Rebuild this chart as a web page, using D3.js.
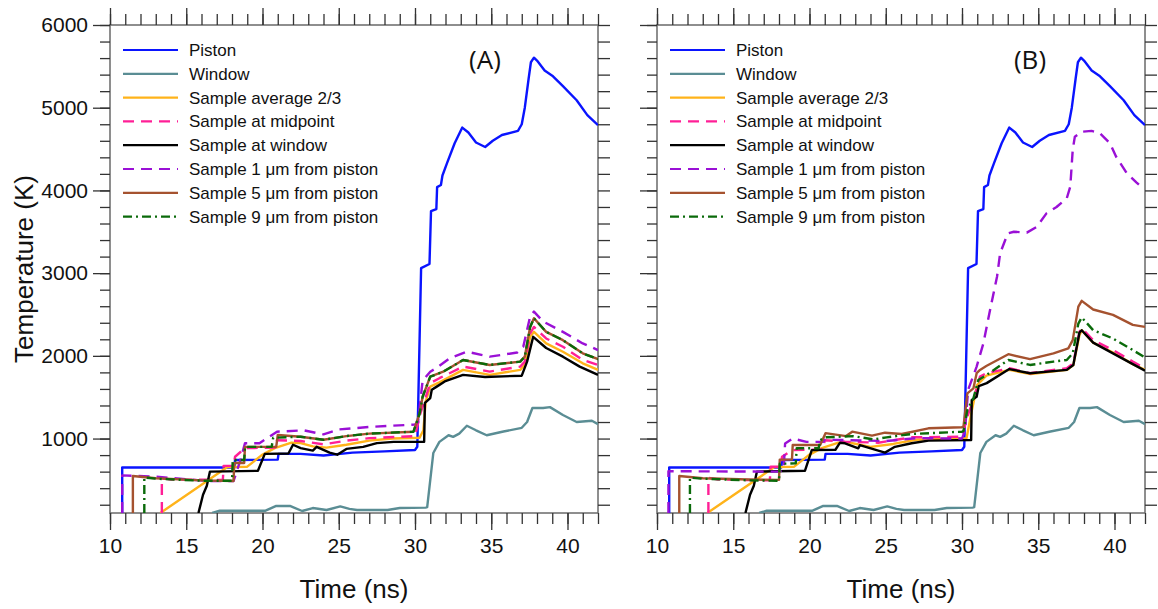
<!DOCTYPE html>
<html>
<head>
<meta charset="utf-8">
<script src="https://cdn.jsdelivr.net/npm/d3@7"></script>
<style>
html,body{margin:0;padding:0;background:#fff;}
svg{display:block;font-family:"Liberation Sans",Arial,Helvetica,sans-serif;}
</style>
</head>
<body>
<svg id="chart" width="1158" height="609"></svg>
<script>
// ---------- data (time in ns, temperature in K) ----------
const xTickValues = [10, 15, 20, 25, 30, 35, 40];
const yTickValues = [1000, 2000, 3000, 4000, 5000, 6000];
const seriesNames = ["Piston", "Window", "Sample average 2/3", "Sample at midpoint", "Sample at window",
  "Sample 1 \u03bcm from piston", "Sample 5 \u03bcm from piston", "Sample 9 \u03bcm from piston"];
const panelLabels = ["(A)", "(B)"];

const piston = [[10.8,100],[10.8,650],[18.15,650],[18.2,740],[21.0,745],[21.05,815],[22.5,815],[24,795],[25.9,830],[28,845],[30.0,862],[30.15,900],[30.4,3060],[30.95,3110],[31.05,3750],[31.4,3775],[31.45,4040],[31.7,4065],[31.8,4180],[32.1,4330],[32.6,4570],[33.1,4760],[33.5,4700],[34.0,4580],[34.6,4525],[35.1,4600],[35.7,4670],[36.75,4720],[37.0,4800],[37.2,5000],[37.45,5350],[37.6,5550],[37.8,5605],[38.0,5570],[38.5,5450],[39.05,5380],[39.7,5260],[40.6,5090],[41.3,4910],[42,4790]];
const windowT = [[16.7,100],[17.2,128],[20.2,128],[20.9,185],[21.8,185],[22.6,124],[23.3,160],[24.2,136],[25.1,180],[25.7,150],[26.2,136],[28.2,136],[29.0,160],[30.7,165],[30.8,170],[31.2,825],[31.6,960],[32.2,1040],[32.5,1020],[32.9,1060],[33.4,1155],[34.0,1100],[34.7,1040],[35.8,1085],[37.0,1130],[37.35,1200],[37.7,1370],[38.4,1370],[38.85,1380],[39.7,1285],[40.6,1200],[41.6,1215],[42,1175]];

const averageA = [[13.3,100],[17.7,655],[19.0,660],[19.95,800],[20.8,885],[21.9,950],[22.5,945],[23.3,905],[24.2,890],[25.5,925],[27,975],[28.5,1000],[30.3,1010],[30.55,1100],[30.7,1450],[31.0,1627],[31.6,1680],[33.15,1830],[34.9,1770],[36.9,1830],[37.2,1890],[37.55,2230],[37.8,2290],[38.6,2150],[39.7,2050],[41,1910],[42,1830]];
const midpointA = [[13.4,100],[13.4,520],[14,505],[17.4,500],[17.45,670],[18.1,670],[18.2,780],[18.85,885],[20.9,890],[20.95,980],[22.5,970],[24,930],[25.5,975],[27,1005],[30.0,1030],[30.35,1300],[31.0,1670],[31.6,1730],[33.15,1870],[34.9,1810],[36.9,1870],[37.2,1930],[37.55,2270],[37.8,2350],[38.6,2210],[39.7,2110],[41,1950],[42,1890]];
const atWindowA = [[15.8,100],[16.1,320],[16.35,430],[16.55,600],[19.7,610],[20.15,815],[21.7,820],[22.0,925],[22.5,885],[23.3,855],[23.55,900],[24.4,830],[24.9,805],[25.5,875],[26.6,900],[27.5,945],[28.6,960],[30.6,962],[30.65,1430],[31.0,1490],[31.1,1590],[31.4,1625],[31.95,1690],[33.15,1770],[34.6,1745],[37.0,1760],[37.35,1930],[37.75,2230],[38.6,2095],[39.7,1990],[40.8,1870],[42,1770]];
const oneMicronA = [[10.8,100],[10.8,555],[13,540],[16.5,485],[18.1,485],[18.5,708],[18.85,943],[19.8,943],[20.95,1083],[22.7,1100],[24,1050],[25,1110],[27,1140],[30,1170],[30.2,1200],[30.5,1700],[31,1808],[31.4,1853],[32.3,1974],[33.4,2050],[34.9,1990],[36.7,2040],[37.1,2110],[37.55,2475],[37.8,2535],[38.4,2415],[39.7,2290],[41,2150],[42,2070]];
const fiveMicronA = [[11.5,100],[11.5,547],[13,520],[16,495],[18.1,487],[18.15,705],[18.8,705],[18.85,900],[20.9,900],[21.0,1043],[22.5,1022],[24,985],[25.5,1030],[27,1060],[29.9,1083],[30.3,1300],[30.5,1506],[31.0,1748],[31.85,1808],[33.15,1950],[34.9,1890],[36.9,1930],[37.2,1990],[37.55,2350],[37.8,2455],[38.6,2290],[39.7,2190],[41,2030],[42,1960]];
const nineMicronA = [[12.25,100],[12.25,530],[13,515],[16,490],[18.0,490],[18.05,740],[18.8,740],[18.85,900],[20.6,900],[20.7,1010],[22.5,1022],[24,985],[25.5,1030],[27,1060],[29.9,1083],[30.3,1300],[30.5,1506],[31.0,1748],[31.85,1808],[33.15,1950],[34.9,1890],[36.9,1930],[37.2,1990],[37.55,2350],[37.8,2455],[38.6,2290],[39.7,2190],[41,2030],[42,1960]];

const averageB = [[13.3,100],[17.7,655],[19.0,660],[19.95,800],[20.8,885],[21.9,950],[22.5,955],[24,900],[25.5,935],[27,985],[30.3,1005],[30.6,1300],[31.0,1650],[31.6,1760],[33.1,1830],[34.5,1780],[36.9,1830],[37.3,1890],[37.7,2250],[37.85,2310],[38.6,2160],[39.9,2040],[41.2,1900],[42,1830]];
const midpointB = [[13.37,100],[13.37,527],[14,505],[17.4,495],[17.45,660],[18.1,660],[18.2,780],[18.85,860],[20.9,870],[21.0,980],[22.33,962],[24.5,950],[26.7,1015],[30.0,1022],[30.35,1265],[30.75,1466],[31.18,1750],[31.62,1790],[33.1,1850],[34.46,1790],[36.87,1850],[37.3,1910],[37.7,2290],[37.85,2335],[38.6,2190],[39.9,2070],[41.2,1930],[42,1850]];
const atWindowB = [[15.8,100],[16.1,320],[16.35,430],[16.55,600],[19.7,610],[20.15,860],[21.7,865],[22.0,950],[22.33,943],[23.2,882],[23.3,920],[24.95,830],[25.6,900],[26.7,943],[27.8,975],[30.6,982],[30.64,1466],[30.96,1506],[31.1,1635],[31.62,1670],[33.1,1840],[34.46,1790],[36.87,1830],[37.3,1890],[37.7,2280],[37.85,2310],[38.6,2160],[39.9,2030],[41.2,1900],[42,1820]];
const oneMicronB = [[10.75,100],[10.75,605],[18.0,600],[18.3,620],[18.4,940],[18.9,1000],[19.8,960],[20.9,960],[21.0,985],[22.33,982],[25.0,970],[27.05,1005],[30.0,1000],[30.2,1100],[30.4,1587],[30.96,1870],[31.4,2150],[31.84,2555],[32.3,2960],[32.5,3240],[33.0,3480],[33.4,3500],[34.25,3490],[34.9,3560],[35.55,3725],[36.2,3800],[36.87,3905],[37.1,4045],[37.26,4490],[37.4,4650],[37.85,4710],[38.5,4720],[39.05,4690],[39.7,4570],[40.1,4410],[40.8,4210],[41.45,4095],[41.6,4070]];
const fiveMicronB = [[11.46,100],[11.46,547],[13,520],[16,505],[18.0,500],[18.05,745],[18.85,745],[18.9,922],[20.7,922],[21.05,1065],[22.4,1030],[22.8,1083],[24.1,1035],[24.95,1071],[26.05,1055],[27.8,1124],[30.0,1136],[30.1,1150],[30.35,1547],[30.75,1607],[30.96,1790],[31.18,1830],[31.62,1880],[33.04,2020],[34.46,1960],[36.0,2030],[36.97,2090],[37.26,2190],[37.63,2595],[37.85,2665],[38.6,2560],[39.9,2495],[41.2,2375],[42,2350]];
const nineMicronB = [[12.16,100],[12.16,527],[13,515],[16,495],[18.0,490],[18.05,695],[19.1,700],[19.16,882],[20.6,882],[20.7,982],[21.1,1015],[22.85,1030],[24.2,990],[25.06,1015],[26.7,1055],[30.0,1083],[30.1,1090],[30.35,1345],[30.75,1487],[31.07,1708],[31.62,1770],[33.04,1950],[34.46,1890],[36.0,1930],[36.87,1950],[37.26,2030],[37.63,2390],[37.85,2465],[38.6,2310],[39.9,2210],[41.2,2070],[42,1980]];

// ---------- styles ----------
const colors = ["#0a14ff", "#5a8d94", "#ffb31a", "#ff1f96", "#000000", "#9a10d6", "#a5522f", "#0a6a0a"];
const dashes = [null, null, null, "11,7", null, "11,7", null, "9,4,2,4"];

const panels = [
  {left: 110, label: panelLabels[0], labelX: 485, yLabels: true,
   data: [piston, windowT, averageA, midpointA, atWindowA, oneMicronA, fiveMicronA, nineMicronA]},
  {left: 657, label: panelLabels[1], labelX: 1030, yLabels: false,
   data: [piston, windowT, averageB, midpointB, atWindowB, oneMicronB, fiveMicronB, nineMicronB]}
];

const W = 488, plotTop = 25, plotBottom = 513;
const svg = d3.select("#chart");
const y = d3.scaleLinear().domain([100, 6000]).range([plotBottom, plotTop]);
const yMinor = d3.range(200, 6001, 200);
const xMinor = d3.range(10, 43, 1);

svg.append("text").attr("transform", "translate(33," + ((plotTop + plotBottom) / 2) + ") rotate(-90)")
  .attr("text-anchor", "middle").attr("font-size", 26).attr("fill", "#111").text("Temperature (K)");

panels.forEach((p, pi) => {
  const x = d3.scaleLinear().domain([10, 42]).range([p.left, p.left + W]);
  const g = svg.append("g");
  const clipId = "clip" + pi;
  g.append("clipPath").attr("id", clipId).append("rect")
    .attr("x", p.left).attr("y", plotTop).attr("width", W).attr("height", plotBottom - plotTop);

  // frame
  g.append("rect").attr("x", p.left).attr("y", plotTop).attr("width", W).attr("height", plotBottom - plotTop)
    .attr("fill", "none").attr("stroke", "#6a6a6a").attr("stroke-width", 1.5);

  const tickStroke = "#333";
  // bottom axis
  g.append("g").attr("transform", `translate(0,${plotBottom})`)
    .call(d3.axisBottom(x).tickValues(xMinor).tickSize(11).tickFormat(""));
  g.append("g").attr("class", "xmaj").attr("transform", `translate(0,${plotBottom})`)
    .call(d3.axisBottom(x).tickValues(xTickValues).tickSize(17).tickPadding(5).tickFormat(d3.format("d")));
  // top axis
  g.append("g").attr("transform", `translate(0,${plotTop})`).call(d3.axisTop(x).tickValues(xMinor).tickSize(11).tickFormat(""));
  g.append("g").attr("transform", `translate(0,${plotTop})`).call(d3.axisTop(x).tickValues(xTickValues).tickSize(17).tickFormat(""));
  // left axis
  g.append("g").attr("transform", `translate(${p.left},0)`).call(d3.axisLeft(y).tickValues(yMinor).tickSize(10).tickFormat(""));
  g.append("g").attr("class", "ymaj").attr("transform", `translate(${p.left},0)`)
    .call(d3.axisLeft(y).tickValues(yTickValues).tickSize(17).tickPadding(5).tickFormat(p.yLabels ? d3.format("d") : ""));
  // right axis
  g.append("g").attr("transform", `translate(${p.left + W},0)`).call(d3.axisRight(y).tickValues(yMinor).tickSize(12).tickFormat(""));

  g.selectAll(".domain").remove();
  g.selectAll(".tick line").attr("stroke", tickStroke).attr("stroke-width", 1.3);
  g.selectAll(".tick text").attr("font-size", 21).attr("fill", "#111")
    .attr("font-family", '"Liberation Sans",Arial,sans-serif');
  g.selectAll(".xmaj .tick text").attr("dy", "0.85em");

  // x title
  svg.append("text").attr("x", p.left + W / 2).attr("y", 598).attr("text-anchor", "middle")
    .attr("font-size", 26).attr("fill", "#111").text("Time (ns)");

  // lines
  const line = d3.line().x(d => x(d[0])).y(d => y(d[1]));
  const lg = g.append("g").attr("clip-path", `url(#${clipId})`);
  p.data.forEach((s, i) => {
    lg.append("path").datum(s).attr("d", line).attr("fill", "none")
      .attr("stroke", colors[i]).attr("stroke-width", 2.4)
      .attr("stroke-linejoin", "round")
      .attr("stroke-dasharray", dashes[i]);
  });

  // legend
  const leg = g.append("g");
  seriesNames.forEach((n, i) => {
    const yy = 50 + i * 23.8;
    leg.append("line").attr("x1", p.left + 13).attr("x2", p.left + 68).attr("y1", yy).attr("y2", yy)
      .attr("stroke", colors[i]).attr("stroke-width", 2.2).attr("stroke-dasharray", dashes[i]);
    leg.append("text").attr("x", p.left + 79).attr("y", yy + 6).attr("font-size", 17)
      .attr("fill", "#111").text(n);
  });

  // panel label
  g.append("text").attr("x", p.labelX).attr("y", 69).attr("text-anchor", "middle")
    .attr("font-family", '"Open Sans","Noto Sans",sans-serif').attr("font-size", 26).attr("fill", "#111").text(p.label);
});
</script>
</body>
</html>
